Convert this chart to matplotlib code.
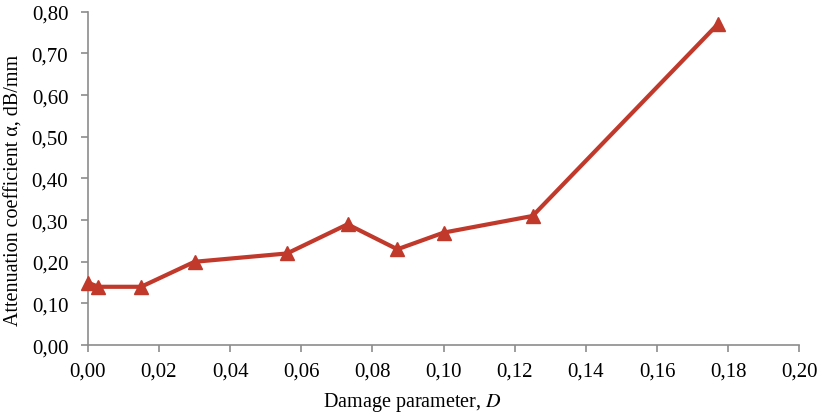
import matplotlib
matplotlib.use("Agg")
import matplotlib.pyplot as plt
from matplotlib.ticker import FuncFormatter, MultipleLocator

damage = [0.0, 0.003, 0.015, 0.030, 0.056, 0.073, 0.087, 0.100, 0.125, 0.177]
attenuation = [0.15, 0.14, 0.14, 0.20, 0.22, 0.29, 0.23, 0.27, 0.31, 0.77]

plt.rcParams['font.family'] = ['Liberation Serif', 'DejaVu Serif']
plt.rcParams['mathtext.fontset'] = 'stix'

red = '#c0392b'
gray = '#8c8c8c'

fig = plt.figure(figsize=(8.2, 4.14), dpi=100)
ax = fig.add_axes([0.107, 0.164, 0.868, 0.805])

ax.plot(damage, attenuation, color=red, lw=3, marker='^', markersize=10,
        markeredgecolor=red, clip_on=False, zorder=3)

ax.set_xlim(0, 0.20)
ax.set_ylim(0, 0.80)
ax.xaxis.set_major_locator(MultipleLocator(0.02))
ax.yaxis.set_major_locator(MultipleLocator(0.10))
comma = FuncFormatter(lambda v, pos: f"{v:.2f}".replace('.', ','))
ax.xaxis.set_major_formatter(comma)
ax.yaxis.set_major_formatter(comma)

for side in ['top', 'right']:
    ax.spines[side].set_visible(False)
for side in ['left', 'bottom']:
    ax.spines[side].set_color(gray)
    ax.spines[side].set_linewidth(1.2)
ax.tick_params(direction='out', length=5, width=1.2, color=gray,
               labelsize=15)
ax.tick_params(axis='x', pad=7)
ax.tick_params(axis='y', pad=9)

ax.set_xlabel(r"Damage parameter, $\mathit{D}$", fontsize=14.5, va='center')
ax.xaxis.set_label_coords(0.456, -0.168)
ax.set_ylabel("Attenuation coefficient α, dB/mm", fontsize=14.5, va='center')
ax.yaxis.set_label_coords(-0.103, 0.468)

fig.savefig("out.png", dpi=100)
